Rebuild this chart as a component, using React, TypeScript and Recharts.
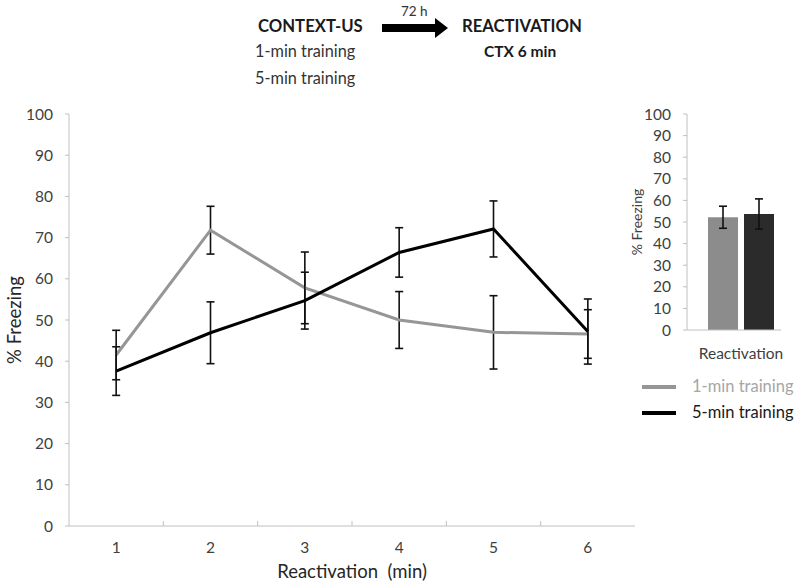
import { LineChart, Line, BarChart, Bar, XAxis, YAxis, ErrorBar, ReferenceLine } from 'recharts';

const minutes = [1, 2, 3, 4, 5, 6];
const oneMinMean = [41.5, 71.8, 57.8, 50, 47, 46.6];
const oneMinErr = [6, 5.8, 8.7, 6.9, 8.9, 5.9];
const fiveMinMean = [37.6, 46.9, 54.7, 66.4, 72.1, 47.2];
const fiveMinErr = [5.9, 7.5, 6.9, 6, 6.8, 7.9];

// category boundaries for the small Excel-style tick marks
const boundaries = [1.5, 2.5, 3.5, 4.5, 5.5];

const insetCategory = ['Reactivation'];
const insetOneMin = [52.2];
const insetOneMinErr = [5.1];
const insetFiveMin = [53.7];
const insetFiveMinErr = [7];

const yTicks = [0, 10, 20, 30, 40, 50, 60, 70, 80, 90, 100];

const lineData = minutes.map((m, i) => ({
  min: m,
  one: oneMinMean[i],
  oneErr: oneMinErr[i],
  five: fiveMinMean[i],
  fiveErr: fiveMinErr[i],
}));

const barData = insetCategory.map((c, i) => ({
  name: c,
  one: insetOneMin[i],
  oneErr: insetOneMinErr[i],
  five: insetFiveMin[i],
  fiveErr: insetFiveMinErr[i],
}));

const FONT = 'Lato, "Open Sans", sans-serif';
const GRAY = '#969696';
const AXIS = '#c0c0c0';
const tick = { fontSize: 15.5, fill: '#404040', fontFamily: FONT };

const App = () => {
  return (
    <div
      style={{
        position: 'absolute',
        left: 0,
        top: 0,
        width: 800,
        height: 585,
        background: '#fff',
        fontFamily: FONT,
        color: '#1a1a1a',
      }}
    >
      {/* protocol header */}
      <div style={{ position: 'absolute', left: 258, top: 16, fontSize: 16.7, fontWeight: 700 }}>CONTEXT-US</div>
      <div style={{ position: 'absolute', left: 255, top: 41, fontSize: 16.3, color: '#333' }}>1-min training</div>
      <div style={{ position: 'absolute', left: 255, top: 68, fontSize: 16.3, color: '#333' }}>5-min training</div>
      <div style={{ position: 'absolute', left: 401, top: 3, fontSize: 13.5, color: '#333' }}>72 h</div>
      <svg style={{ position: 'absolute', left: 381, top: 17 }} width={70} height={22}>
        <polygon points="1,7 54,7 54,1 67,11 54,21 54,15 1,15" fill="#000" />
      </svg>
      <div style={{ position: 'absolute', left: 462, top: 16, fontSize: 16.7, fontWeight: 700 }}>REACTIVATION</div>
      <div style={{ position: 'absolute', left: 484, top: 42, fontSize: 15.5, fontWeight: 700 }}>CTX 6 min</div>

      {/* main time course */}
      <div style={{ position: 'absolute', left: 0, top: 0 }}>
        <LineChart width={660} height={585} data={lineData} margin={{ top: 114, right: 25, bottom: 7, left: 0 }}>
          <XAxis
            dataKey="min"
            type="number"
            domain={[0.5, 6.5]}
            ticks={minutes}
            interval={0}
            height={52}
            stroke={AXIS}
            tickLine={false}
            tickMargin={10}
            tick={tick}
            label={{
              value: 'Reactivation\u00a0\u00a0(min)',
              position: 'insideBottom',
              offset: 0,
              style: { fontSize: 18.5, fill: '#262626', fontFamily: FONT },
            }}
          />
          <YAxis
            width={69}
            domain={[0, 100]}
            ticks={yTicks}
            interval={0}
            stroke={AXIS}
            tickSize={4}
            tickMargin={12}
            tick={tick}
            label={{
              value: '% Freezing',
              angle: -90,
              position: 'insideLeft',
              offset: 14,
              style: { textAnchor: 'middle', fontSize: 18.5, fill: '#262626', fontFamily: FONT },
            }}
          />
          {boundaries.map((b) => (
            <ReferenceLine
              key={b}
              segment={[
                { x: b, y: 0 },
                { x: b, y: 1.2 },
              ]}
              stroke={AXIS}
              strokeWidth={1}
            />
          ))}
          <Line dataKey="one" stroke={GRAY} strokeWidth={3} dot={false} isAnimationActive={false}>
            <ErrorBar dataKey="oneErr" width={4} stroke="#111" strokeWidth={1.6} />
          </Line>
          <Line dataKey="five" stroke="#000" strokeWidth={3} dot={false} isAnimationActive={false}>
            <ErrorBar dataKey="fiveErr" width={4} stroke="#111" strokeWidth={1.6} />
          </Line>
        </LineChart>
      </div>

      {/* inset: whole session */}
      <div style={{ position: 'absolute', left: 600, top: 0 }}>
        <BarChart
          width={200}
          height={370}
          data={barData}
          margin={{ top: 114, right: 19, bottom: 0, left: 0 }}
          barSize={30}
          barGap={6}
        >
          <XAxis
            dataKey="name"
            height={40}
            padding={{ left: 14, right: 0 }}
            stroke={AXIS}
            tickLine={false}
            tickMargin={12}
            tick={tick}
          />
          <YAxis
            width={87}
            domain={[0, 100]}
            ticks={yTicks}
            interval={0}
            stroke={AXIS}
            tickSize={4}
            tickMargin={12}
            tick={tick}
            label={{
              value: '% Freezing',
              angle: -90,
              position: 'insideLeft',
              offset: 37,
              style: { textAnchor: 'middle', fontSize: 14, fill: '#404040', fontFamily: FONT },
            }}
          />
          <Bar dataKey="one" fill="#8c8c8c" isAnimationActive={false}>
            <ErrorBar dataKey="oneErr" width={4} stroke="#111" strokeWidth={1.6} />
          </Bar>
          <Bar dataKey="five" fill="#2b2b2b" isAnimationActive={false}>
            <ErrorBar dataKey="fiveErr" width={4} stroke="#111" strokeWidth={1.6} />
          </Bar>
        </BarChart>
      </div>

      {/* legend */}
      <div style={{ position: 'absolute', left: 642, top: 385, width: 34, height: 4, background: GRAY }} />
      <div style={{ position: 'absolute', left: 692, top: 376, fontSize: 16.5, color: '#a6a6a6' }}>1-min training</div>
      <div style={{ position: 'absolute', left: 642, top: 411, width: 34, height: 4, background: '#000' }} />
      <div style={{ position: 'absolute', left: 692, top: 402, fontSize: 16.5, color: '#1a1a1a' }}>5-min training</div>
    </div>
  );
};

export default App;
